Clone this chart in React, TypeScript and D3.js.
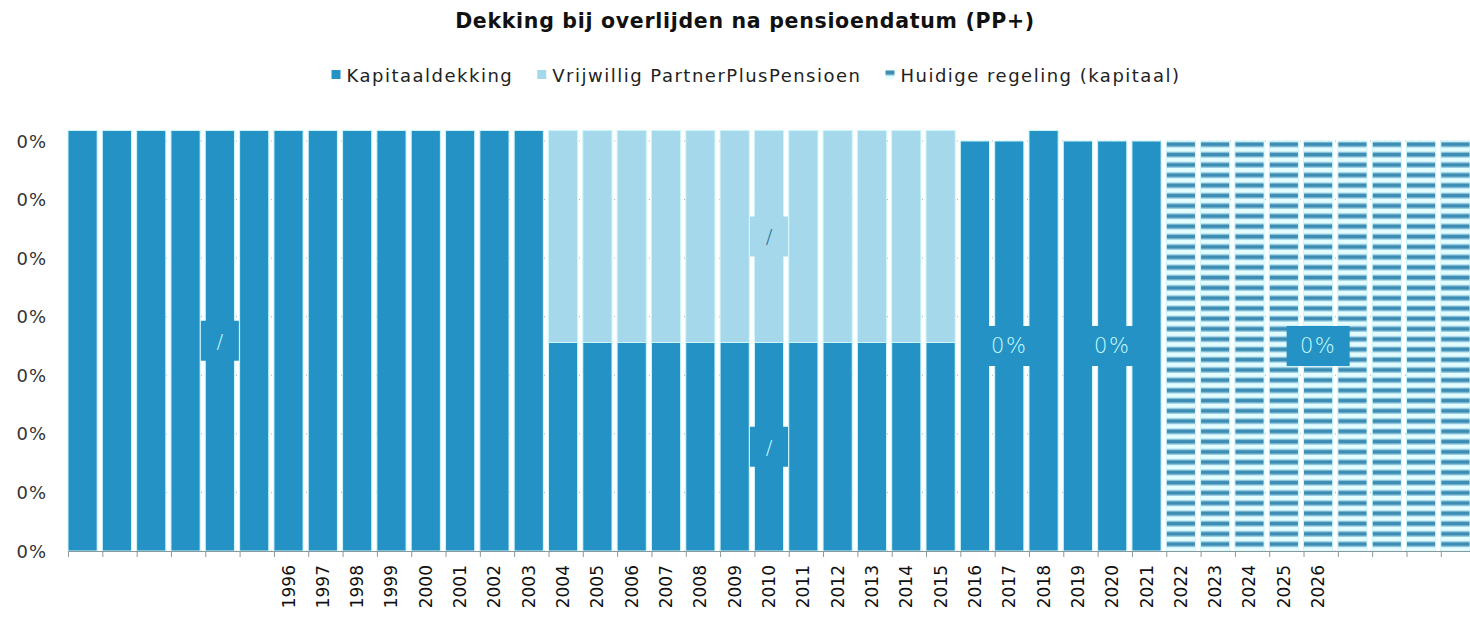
import React, { useEffect, useRef } from 'react';
import * as d3 from 'd3';

// categories: 6 unnamed columns, 1996..2026, 4 unnamed columns
const categories = [
  '', '', '', '', '', '',
  '1996', '1997', '1998', '1999', '2000', '2001', '2002', '2003', '2004', '2005',
  '2006', '2007', '2008', '2009', '2010', '2011', '2012', '2013', '2014', '2015',
  '2016', '2017', '2018', '2019', '2020', '2021', '2022', '2023', '2024', '2025', '2026',
  '', '', '', ''
];

const kapitaal = [
  0.00359, 0.00359, 0.00359, 0.00359, 0.00359, 0.00359, 0.00359, 0.00359, 0.00359, 0.00359,
  0.00359, 0.00359, 0.00359, 0.00359, 0.00178, 0.00178, 0.00178, 0.00178, 0.00178, 0.00178,
  0.00178, 0.00178, 0.00178, 0.00178, 0.00178, 0.00178, 0.0035, 0.0035, 0.00359, 0.0035,
  0.0035, 0.0035, 0, 0, 0, 0, 0, 0, 0, 0, 0
];

const vrijwillig = [
  0, 0, 0, 0, 0, 0, 0, 0, 0, 0,
  0, 0, 0, 0, 0.00181, 0.00181, 0.00181, 0.00181, 0.00181, 0.00181,
  0.00181, 0.00181, 0.00181, 0.00181, 0.00181, 0.00181, 0, 0, 0, 0,
  0, 0, 0, 0, 0, 0, 0, 0, 0, 0, 0
];

const huidige = [
  0, 0, 0, 0, 0, 0, 0, 0, 0, 0,
  0, 0, 0, 0, 0, 0, 0, 0, 0, 0,
  0, 0, 0, 0, 0, 0, 0, 0, 0, 0,
  0, 0, 0.0035, 0.0035, 0.0035, 0.0035, 0.0035, 0.0035, 0.0035, 0.0035, 0.0035
];

const seriesNames = ['Kapitaaldekking', 'Vrijwillig PartnerPlusPensioen', 'Huidige regeling (kapitaal)'];
const yTicks = [0, 0.0005, 0.001, 0.0015, 0.002, 0.0025, 0.003, 0.0035];

// data labels as they show on the chart (series index, column index, text)
const labelSeries = [0, 1, 0, 0, 0, 2];
const labelIndex = [4, 20, 20, 27, 30, 36];
const labelText = ['/', '/', '/', '0%', '0%', '0%'];

const W = 1470;
const H = 618;
const DARK = '#2492c4';
const LIGHT = '#a6d8eb';
const FONT = '"DejaVu Sans", Verdana, sans-serif';

export default function App() {
  const ref = useRef<SVGSVGElement>(null);

  useEffect(() => {
    const svg = d3.select(ref.current);
    svg.selectAll('*').remove();

    const margin = { left: 68, right: 0 };
    const x = d3.scaleBand<number>()
      .domain(d3.range(categories.length))
      .range([margin.left, W - margin.right])
      .paddingInner(0.15)
      .paddingOuter(0);
    const y = d3.scaleLinear().domain([0, 0.0035]).range([551, 141]);
    const bw = x.bandwidth();
    const fmt = d3.format('.0%');

    // stripe pattern for "Huidige regeling"
    const defs = svg.append('defs');
    const pat = defs.append('pattern')
      .attr('id', 'stripes')
      .attr('patternUnits', 'userSpaceOnUse')
      .attr('width', 8)
      .attr('height', 10.25)
      .attr('y', 141);
    pat.append('rect').attr('width', 8).attr('height', 10.25).attr('fill', '#e4fdff');
    pat.append('rect').attr('y', 0.6).attr('width', 8).attr('height', 5.6).attr('fill', '#7bb9d5');
    pat.append('rect').attr('y', 1.9).attr('width', 8).attr('height', 3).attr('fill', '#3c8bb2');

    // title
    svg.append('text')
      .attr('x', 745)
      .attr('y', 28)
      .attr('text-anchor', 'middle')
      .attr('font-family', FONT)
      .attr('font-weight', 'bold')
      .attr('font-size', 20.5)
      .attr('letter-spacing', 0.7)
      .attr('fill', '#111')
      .text('Dekking bij overlijden na pensioendatum (PP+)');

    // legend
    const fills = [DARK, LIGHT, 'url(#stripes)'];
    const legend = svg.append('g');
    let lx = 0;
    seriesNames.forEach((name, i) => {
      const g = legend.append('g').attr('transform', `translate(${lx},0)`);
      g.append('rect')
        .attr('x', 0).attr('y', 70).attr('width', 9).attr('height', 9)
        .attr('fill', fills[i]);
      const t = g.append('text')
        .attr('x', 15).attr('y', 75)
        .attr('dominant-baseline', 'central')
        .attr('font-family', FONT)
        .attr('font-size', 18)
        .attr('letter-spacing', 1.5)
        .attr('fill', '#222')
        .text(name);
      const tw = (t.node() as SVGTextElement).getComputedTextLength();
      lx += 15 + tw + 24;
    });
    const legendW = lx - 24;
    legend.attr('transform', `translate(${756 - legendW / 2},0)`);

    // grid lines
    svg.append('g')
      .selectAll('line')
      .data(yTicks)
      .join('line')
      .attr('x1', margin.left)
      .attr('x2', W)
      .attr('y1', d => y(d))
      .attr('y2', d => y(d))
      .attr('stroke', '#9fb4b8')
      .attr('stroke-dasharray', '1,6');

    // stacked bars
    const stackRows = categories.map((c, i) => ({ i, k: kapitaal[i], v: vrijwillig[i], h: huidige[i] }));
    const stack = d3.stack<any>().keys(['k', 'v', 'h'])(stackRows);
    stack.forEach((layer, si) => {
      svg.append('g')
        .selectAll('rect')
        .data(layer.filter(d => d[1] - d[0] > 0))
        .join('rect')
        .attr('x', d => x(d.data.i)!)
        .attr('width', bw)
        .attr('y', d => y(d[1]))
        .attr('height', d => y(d[0]) - y(d[1]))
        .attr('fill', fills[si])
        .attr('stroke', '#cdf7fb')
        .attr('stroke-width', 1);
    });

    // x axis
    const axis = svg.append('g');
    axis.append('line')
      .attr('x1', margin.left).attr('x2', W)
      .attr('y1', 551.5).attr('y2', 551.5)
      .attr('stroke', '#8a9a9c');
    axis.selectAll('line.tick')
      .data(d3.range(categories.length))
      .join('line')
      .attr('class', 'tick')
      .attr('x1', d => x(d)! + 0.5)
      .attr('x2', d => x(d)! + 0.5)
      .attr('y1', 551)
      .attr('y2', 557)
      .attr('stroke', '#8a9a9c');
    axis.selectAll('text')
      .data(categories.map((c, i) => ({ c, i })).filter(d => d.c !== ''))
      .join('text')
      .attr('transform', d => `translate(${x(d.i)! + bw / 2},565) rotate(-90)`)
      .attr('text-anchor', 'end')
      .attr('dominant-baseline', 'central')
      .attr('font-family', FONT)
      .attr('font-size', 17)
      .attr('fill', '#111')
      .text(d => d.c);

    // y labels
    svg.append('g')
      .selectAll('text')
      .data(yTicks)
      .join('text')
      .attr('x', 47)
      .attr('y', d => y(d))
      .attr('text-anchor', 'end')
      .attr('dominant-baseline', 'central')
      .attr('font-family', FONT)
      .attr('font-size', 18)
      .attr('letter-spacing', 1)
      .attr('fill', '#333')
      .text(d => fmt(d));

    // data labels
    const labelFill = [DARK, LIGHT, DARK];
    const labelColor = ['#c9fbff', '#1d6d96', '#c9fbff'];
    labelIndex.forEach((idx, j) => {
      const si = labelSeries[j];
      const d = stack[si][idx];
      const cx = x(idx)! + bw / 2;
      const cy = (y(d[0]) + y(d[1])) / 2;
      const bwBox = labelText[j] === '/' ? 38 : (si === 2 ? 63 : 48);
      svg.append('rect')
        .attr('x', cx - bwBox / 2)
        .attr('y', cy - 20)
        .attr('width', bwBox)
        .attr('height', 40)
        .attr('fill', labelFill[si]);
      svg.append('text')
        .attr('x', cx)
        .attr('y', cy)
        .attr('text-anchor', 'middle')
        .attr('dominant-baseline', 'central')
        .attr('font-family', FONT)
        .attr('font-size', labelText[j] === '/' ? 20 : 21)
        .attr('font-weight', 300)
        .attr('letter-spacing', labelText[j] === '/' ? 0 : 1.5)
        .attr('fill', labelColor[si])
        .text(labelText[j]);
    });
  }, []);

  return (
    <svg
      ref={ref}
      width={W}
      height={H}
      style={{ position: 'absolute', left: 0, top: 0, background: '#fff' }}
    />
  );
}
